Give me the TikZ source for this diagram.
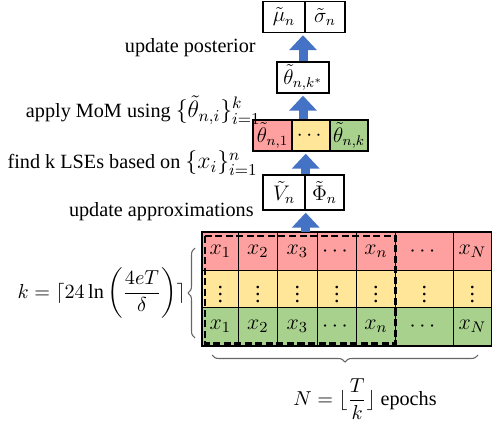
\RequirePackage{fix-cm}
\documentclass[tikz,border=0pt]{standalone}
\usepackage{amsmath}
\usepackage{fontspec}
\setmainfont{Liberation Serif}
\usetikzlibrary{arrows.meta, positioning, calc, decorations.pathreplacing}
\definecolor{cellred}{RGB}{255,160,160}
\definecolor{cellyellow}{RGB}{255,230,153}
\definecolor{cellgreen}{RGB}{169,209,142}
\definecolor{arrowblue}{RGB}{68,114,196}
\newcommand{\mathbig}[1]{{\fontsize{13.5}{16}\selectfont$#1$}}

\begin{document}
\begin{tikzpicture}[
    x=0.02cm, y=-0.02cm,
    every node/.style={font=\fontsize{11.5}{14}\selectfont},
    box/.style={rectangle, draw=black, thick, inner sep=0pt, minimum height=31*0.02cm,
                font=\fontsize{12}{14}\selectfont},
    cell/.style={rectangle, draw=black, inner sep=0pt, font=\fontsize{12.5}{15}\selectfont},
    label/.style={anchor=east, inner sep=0pt},
    fatarrow/.style={arrowblue, line width=0.18cm, shorten >=2*0.02cm,
                     -{Triangle[width=0.54cm, length=0.3cm]}},
    brace/.style={decorate, decoration={brace, amplitude=0.14cm}, gray!80!black, semithick},
    window/.style={dashed, dash pattern=on 4pt off 2pt, line width=1.6pt}
]
\useasboundingbox (0,0) rectangle (492,422);

% Posterior
\node (mu) [box, minimum width=42*0.02cm] at (284,17) {$\tilde{\mu}_n$};
\node (sigma) [box, minimum width=40*0.02cm] at (325,17) {$\tilde{\sigma}_n$};

% Median of means
\node (thetastar) [box, minimum width=52*0.02cm] at (303,77.5) {$\tilde{\theta}_{n,k^*}$};

% LSEs
\node (theta1) [box, fill=cellred, minimum width=39*0.02cm] at (272.5,135.5) {$\tilde{\theta}_{n,1}$};
\node (thetadots) [box, fill=cellyellow, minimum width=38*0.02cm] at (311,135.5) {$\cdots$};
\node (thetak) [box, fill=cellgreen, minimum width=38*0.02cm] at (349,135.5) {$\tilde{\theta}_{n,k}$};

% Approximations
\node (V) [box, minimum width=42*0.02cm, minimum height=35*0.02cm] at (284,192.5) {$\tilde{V}_n$};
\node (Phi) [box, minimum width=39*0.02cm, minimum height=35*0.02cm] at (324.5,192.5) {$\tilde{\Phi}_n$};

% Data grid
\foreach \row/\col in {1/cellred, 2/cellyellow, 3/cellgreen} {
  \foreach \l/\r/\t [count=\i] in {202/238/x_1, 238/277/x_2, 277/317/x_3, 317/356/\cdots,
                                   356/395/x_n, 395/453/\cdots, 453/491/x_N} {
    \pgfmathsetmacro{\top}{232+(\row-1)*37.7}
    \ifnum\row=2
      \node (c-\row-\i) [cell, fill=\col, minimum width={(\r-\l)*0.02cm}, minimum height=37.7*0.02cm,
             anchor=north west] at (\l,\top) {$\vdots$};
    \else
      \node (c-\row-\i) [cell, fill=\col, minimum width={(\r-\l)*0.02cm}, minimum height=37.7*0.02cm,
             anchor=north west] at (\l,\top) {$\t$};
    \fi
  }
}
\draw [very thick] (c-1-1.north west) rectangle (c-3-7.south east);
\draw [window] ($(c-1-1.north west)+(3,4)$) rectangle ($(c-3-5.south east)+(0,-2)$);

% Arrows
\draw [fatarrow] (thetastar.north) -- (thetastar.north |- mu.south);
\draw [fatarrow] (thetastar.south |- thetadots.north) -- (thetastar.south);
\draw [fatarrow] (V.north east) -- (V.north east |- thetadots.south);
\draw [fatarrow] (V.south east |- c-1-3.north) -- (V.south east);

% Labels
\node (lpost) [label] at (256,48) {update posterior};
\node (lmom) [label] at (261,110) {apply MoM using \mathbig{\{\tilde{\theta}_{n,i}\}_{i=1}^{k}}};
\node (llse) [label] at (258,163) {find k LSEs based on \mathbig{\{x_i\}_{i=1}^{n}}};
\node (lapprox) [label] at (254,212) {update approximations};

% Braces
\draw [brace] (195,338) -- (195,248);
\node (kval) [label] at (186,293) {$k = \lceil 24\ln\left(\dfrac{4eT}{\delta}\right)\rceil$};
\draw [brace] (478,355) -- (212,355);
\node (nval) at (365,399) {$N = \lfloor \dfrac{T}{k} \rfloor$ epochs};
\end{tikzpicture}
\end{document}
